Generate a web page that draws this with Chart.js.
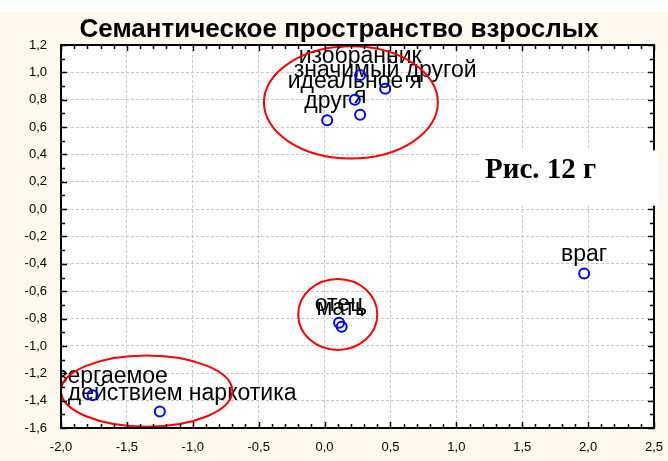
<!DOCTYPE html>
<html>
<head>
<meta charset="utf-8">
<script src="https://cdn.jsdelivr.net/npm/chart.js@4.4.1/dist/chart.umd.min.js"></script>
<style>
  html, body { margin: 0; padding: 0; background: #fdf9ee; }
  #wrap { width: 668px; height: 461px; }
</style>
</head>
<body>
<div id="wrap"><canvas id="chart" width="668" height="461"></canvas></div>
<script>
// ======= Data =======
const pointNames = ['изобранник', 'значимый другой', 'идеальное я', 'я', 'друг',
  'отец', 'мать', 'враг', 'подвергаемое', 'под действием наркотика'];
const xValues = [0.27, 0.46, 0.23, 0.27, 0.02, 0.11, 0.13, 1.97, -1.76, -1.25];
const yValues = [0.98, 0.88, 0.80, 0.69, 0.65, -0.83, -0.86, -0.47, -1.36, -1.48];

// cluster ellipses (data units)
const ellipseX = [0.20, 0.10, -1.35];
const ellipseY = [0.78, -0.77, -1.33];
const ellipseRx = [0.66, 0.30, 0.65];
const ellipseRy = [0.41, 0.26, 0.26];

const chartTitle = 'Семантическое пространство взрослых';
const figLabel = 'Рис. 12 г';

const fmt = v => (Math.abs(v) < 1e-9 ? 0 : v).toFixed(1).replace('.', ',');

// ======= Plugins =======
const backdrop = {
  id: 'backdrop',
  beforeDraw(chart) {
    const { ctx, chartArea: a } = chart;
    ctx.save();
    ctx.fillStyle = '#ffffff';
    ctx.fillRect(0, 0, chart.width, chart.height);
    ctx.fillStyle = '#fdf9ee';
    ctx.fillRect(0, 12, chart.width, chart.height - 12);
    ctx.fillStyle = '#ffffff';
    ctx.fillRect(a.left, a.top, a.right - a.left, a.bottom - a.top);
    ctx.restore();
  }
};

const labelsAndRings = {
  id: 'labelsAndRings',
  beforeDatasetsDraw(chart) {
    const { ctx, chartArea: a, scales: { x, y } } = chart;
    ctx.save();
    ctx.beginPath();
    ctx.rect(a.left, a.top, a.right - a.left, a.bottom - a.top);
    ctx.clip();
    // point labels
    ctx.font = '23px "Liberation Sans", Arial, sans-serif';
    ctx.fillStyle = '#000';
    ctx.textAlign = 'center';
    ctx.textBaseline = 'alphabetic';
    pointNames.forEach((n, i) => {
      ctx.fillText(n, x.getPixelForValue(xValues[i]), y.getPixelForValue(yValues[i]) - 12);
    });
    // ellipses
    ctx.strokeStyle = '#ff0000';
    ctx.lineWidth = 2;
    ellipseX.forEach((cx, i) => {
      const px = x.getPixelForValue(cx), py = y.getPixelForValue(ellipseY[i]);
      const rx = Math.abs(x.getPixelForValue(cx + ellipseRx[i]) - px);
      const ry = Math.abs(y.getPixelForValue(ellipseY[i] + ellipseRy[i]) - py);
      ctx.beginPath();
      ctx.ellipse(px, py, rx, ry, 0, 0, Math.PI * 2);
      ctx.stroke();
    });
    ctx.restore();
  }
};

const frame = {
  id: 'frame',
  afterDraw(chart) {
    const { ctx, chartArea: a, scales: { x, y } } = chart;
    ctx.save();
    ctx.strokeStyle = '#000';
    ctx.lineWidth = 2;
    ctx.strokeRect(a.left, a.top, a.right - a.left, a.bottom - a.top);
    // inner ticks, major and minor
    ctx.lineWidth = 1.5;
    ctx.beginPath();
    for (let k = -20; k <= 25; k++) {
      const px = Math.round(x.getPixelForValue(k / 10)) + 0.5;
      const len = k % 5 === 0 ? 6 : 4;
      ctx.moveTo(px, a.bottom); ctx.lineTo(px, a.bottom - len);
      ctx.moveTo(px, a.top); ctx.lineTo(px, a.top + len);
    }
    for (let k = -16; k <= 12; k++) {
      const py = Math.round(y.getPixelForValue(k / 10)) + 0.5;
      const len = k % 2 === 0 ? 6 : 4;
      ctx.moveTo(a.left, py); ctx.lineTo(a.left + len, py);
      ctx.moveTo(a.right, py); ctx.lineTo(a.right - len, py);
    }
    ctx.stroke();

    // figure label box
    const bx0 = x.getPixelForValue(1.18), bx1 = x.getPixelForValue(2.53);
    const by0 = y.getPixelForValue(0.43), by1 = y.getPixelForValue(0.025);
    ctx.fillStyle = '#ffffff';
    ctx.fillRect(bx0, by0, bx1 - bx0, by1 - by0);
    ctx.fillStyle = '#000';
    ctx.font = 'bold 29px "Liberation Serif", "Times New Roman", serif';
    ctx.textAlign = 'left';
    ctx.textBaseline = 'alphabetic';
    ctx.fillText(figLabel, bx0 + 5, y.getPixelForValue(0.23));

    // title
    ctx.font = 'bold 26px "Liberation Sans", Arial, sans-serif';
    ctx.textAlign = 'center';
    ctx.fillText(chartTitle, 339, 37);
    ctx.restore();
  }
};

// ======= Chart.js scatter =======
const ctx = document.getElementById('chart').getContext('2d');
new Chart(ctx, {
  type: 'scatter',
  data: {
    datasets: [{
      data: xValues.map((v, i) => ({ x: v, y: yValues[i] })),
      pointStyle: 'circle',
      pointRadius: 5,
      pointBorderWidth: 2,
      pointBorderColor: '#0000ff',
      pointBackgroundColor: 'rgba(0,0,0,0)'
    }]
  },
  options: {
    responsive: false,
    animation: false,
    devicePixelRatio: 1,
    layout: { padding: { top: 45, right: 14, left: 0, bottom: 0 } },
    plugins: {
      legend: { display: false },
      tooltip: { enabled: false },
      title: { display: false }
    },
    scales: {
      x: {
        type: 'linear',
        min: -2, max: 2.5,
        afterFit: s => { s.height = 33; s.paddingLeft = 0; s.paddingRight = 0; },
        ticks: {
          stepSize: 0.5,
          callback: v => fmt(v),
          color: '#000',
          padding: 12,
          maxRotation: 0,
          font: { family: '"Liberation Sans", Arial, sans-serif', size: 13 }
        },
        grid: { color: '#c8c8c8', drawTicks: false, lineWidth: 1 },
        border: { display: false, dash: [3, 2] }
      },
      y: {
        type: 'linear',
        min: -1.6, max: 1.2,
        afterFit: s => { s.width = 61; s.paddingTop = 0; s.paddingBottom = 0; },
        ticks: {
          stepSize: 0.2,
          callback: v => fmt(v),
          color: '#000',
          padding: 14,
          font: { family: '"Liberation Sans", Arial, sans-serif', size: 13 }
        },
        grid: { color: '#c8c8c8', drawTicks: false, lineWidth: 1 },
        border: { display: false, dash: [3, 2] }
      }
    }
  },
  plugins: [backdrop, labelsAndRings, frame]
});
</script>
</body>
</html>
